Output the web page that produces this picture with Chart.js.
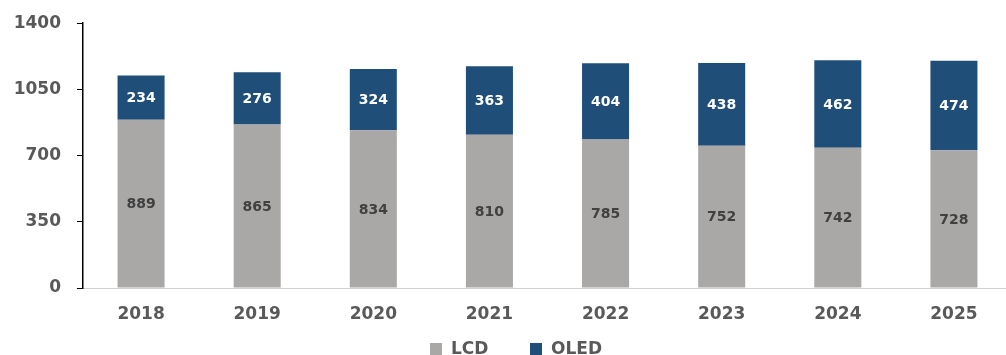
<!DOCTYPE html>
<html>
<head>
<meta charset="utf-8">
<script src="https://cdn.jsdelivr.net/npm/chart.js@4"></script>
<style>
  html, body { margin: 0; padding: 0; background: #fff; overflow: hidden; }
  #wrap { width: 1012px; height: 355px; }
</style>
</head>
<body>
<div id="wrap"><canvas id="chart"></canvas></div>
<script>
const years = ["2018", "2019", "2020", "2021", "2022", "2023", "2024", "2025"];
const lcd = [889, 865, 834, 810, 785, 752, 742, 728];
const oled = [234, 276, 324, 363, 404, 438, 462, 474];
const yTicks = [0, 350, 700, 1050, 1400];

const FONT = "DejaVu Sans";

// draws the value in the middle of every bar segment
const barLabels = {
  id: "barLabels",
  afterDatasetsDraw(chart) {
    const ctx = chart.ctx;
    ctx.save();
    ctx.font = "bold 14px '" + FONT + "'";
    ctx.textAlign = "center";
    ctx.textBaseline = "middle";
    chart.data.datasets.forEach((ds, i) => {
      chart.getDatasetMeta(i).data.forEach((bar, j) => {
        const mid = (bar.y + bar.base) / 2;
        ctx.fillStyle = i === 0 ? "#404040" : "#ffffff";
        ctx.fillText(ds.data[j], bar.x, mid + 1);
      });
    });
    ctx.restore();
  },
};

// legend under the x labels, spaced like the original
const bottomLegend = {
  id: "bottomLegend",
  afterDraw(chart) {
    const ctx = chart.ctx;
    ctx.save();
    ctx.font = "bold 17px '" + FONT + "'";
    ctx.textBaseline = "middle";
    const boxes = [430, 530];
    chart.data.datasets.forEach((ds, i) => {
      const x = boxes[i];
      ctx.fillStyle = ds.backgroundColor;
      ctx.fillRect(x, 343, 12, 12);
      ctx.fillStyle = "#595959";
      ctx.fillText(ds.label, x + 21, 350);
    });
    ctx.restore();
  },
};

new Chart(document.getElementById("chart"), {
  type: "bar",
  data: {
    labels: years,
    datasets: [
      {
        label: "LCD",
        data: lcd,
        backgroundColor: "#aaa7a7",
        barPercentage: 0.405,
        categoryPercentage: 1,
      },
      {
        label: "OLED",
        data: oled,
        backgroundColor: "#1f4e79",
        barPercentage: 0.405,
        categoryPercentage: 1,
      },
    ],
  },
  options: {
    responsive: true,
    maintainAspectRatio: false,
    animation: false,
    layout: { padding: 0 },
    plugins: {
      tooltip: { enabled: false },
      legend: { display: false },
    },
    scales: {
      x: {
        stacked: true,
        grid: { display: false },
        border: { color: "#d0d0d0", width: 1 },
        afterFit: (axis) => {
          axis.height = 67;
        },
        ticks: {
          color: "#595959",
          padding: 8,
          font: { family: FONT, weight: "bold", size: 17 },
        },
      },
      y: {
        stacked: true,
        min: 0,
        max: 1400,
        afterBuildTicks: (axis) => {
          axis.ticks = yTicks.map((v) => ({ value: v }));
        },
        afterFit: (axis) => {
          axis.width = 83;
        },
        grid: {
          drawOnChartArea: false,
          drawTicks: true,
          tickLength: 6,
          color: "#000",
        },
        border: { color: "#000", width: 1.5 },
        ticks: {
          color: "#595959",
          padding: 16,
          callback: (v) => String(v),
          font: { family: FONT, weight: "bold", size: 17, lineHeight: 0.85 },
        },
      },
    },
  },
  plugins: [barLabels, bottomLegend],
});
</script>
</body>
</html>
